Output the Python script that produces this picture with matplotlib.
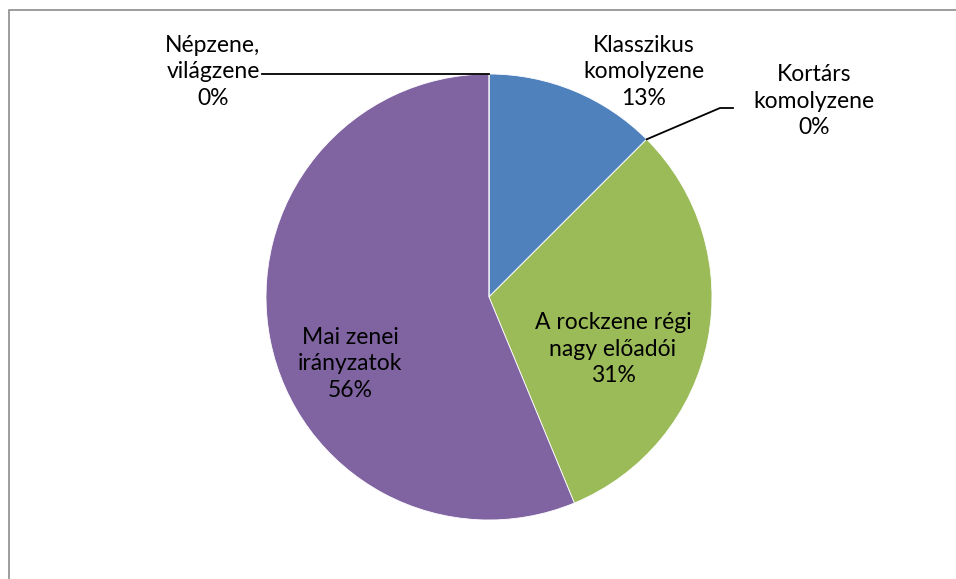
import numpy as np
import matplotlib
matplotlib.use("Agg")
import matplotlib.pyplot as plt
from matplotlib.patches import Rectangle

# data
categories = ["Klasszikus\nkomolyzene", "Kortárs\nkomolyzene",
              "A rockzene régi\nnagy előadói", "Mai zenei\nirányzatok",
              "Népzene,\nvilágzene"]
counts = [2, 0, 5, 9, 0]
colors = ["#4F81BD", "#C0504D", "#9BBB59", "#8064A2", "#4BACC6"]

plt.rcParams['font.family'] = ['Lato', 'DejaVu Sans']

W, H = 956, 579
fig = plt.figure(figsize=(W / 100, H / 100), dpi=100)
ax = fig.add_axes([0, 0, 1, 1])

# chart area border (cropped on right/bottom)
fig.patches.append(Rectangle((9 / W, -0.05), 1.1, (H - 10) / H + 0.05,
                             transform=fig.transFigure, fill=False,
                             edgecolor="#8C8C8C", linewidth=1.2))

cx, cy, r = 489, H - 297, 223
total = sum(counts)
pcts = [c / total * 100 for c in counts]

ax.pie(counts, colors=colors, startangle=90, counterclock=False,
       center=(cx, cy), radius=r, frame=True,
       wedgeprops=dict(edgecolor="white", linewidth=0.6))
ax.set_xlim(0, W)
ax.set_ylim(0, H)
ax.axis('off')

# label positions (block centers, pixels from top)
label_pos = [(644, 72), (814, 101), (613, 349), (350, 364), (213, 72)]
fs = 16.5
for name, p, (lx, ly) in zip(categories, pcts, label_pos):
    ax.text(lx, H - ly, f"{name}\n{int(p + 0.5)}%", ha="center", va="center",
            fontsize=fs, linespacing=1.3, color="black")

# leader lines for the zero slices
cum = np.cumsum([0] + counts) / total
def edge_point(frac):
    ang = np.deg2rad(90 - 360 * frac)
    return cx + r * np.cos(ang), cy + r * np.sin(ang)

# Kortárs komolyzene
x0, y0 = edge_point(cum[1])
ax.plot([x0, 720, 733], [y0, H - 108, H - 108], color="black", lw=1.3)
# Népzene, világzene
x0, y0 = edge_point(cum[4])
ax.plot([x0, 262], [y0, y0], color="black", lw=1.3)

fig.savefig("out.png", dpi=100)
